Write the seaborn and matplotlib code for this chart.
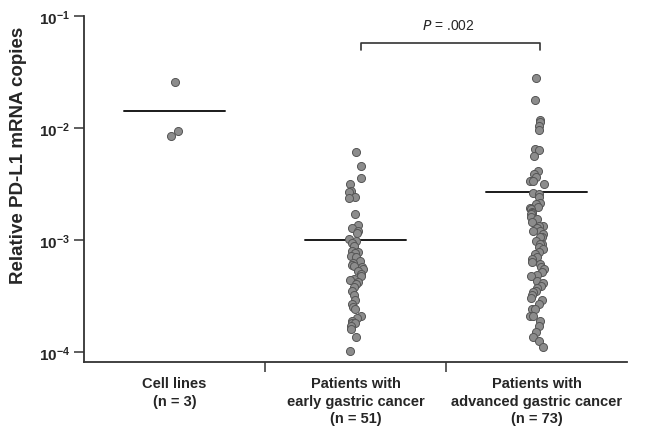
import numpy as np
import pandas as pd
import matplotlib
matplotlib.use('Agg')
import matplotlib.pyplot as plt
import seaborn as sns

# values (relative PD-L1 mRNA copies)
groups = ['Cell lines\n(n = 3)',
          'Patients with\nearly gastric cancer\n(n = 51)',
          'Patients with\nadvanced gastric cancer\n(n = 73)']

cell_lines = [0.0258, 0.0093, 0.0085]

early = [0.00607, 0.00455, 0.00356, 0.00316, 0.00272, 0.00267, 0.00241, 0.00236,
         0.00171, 0.00136, 0.00127, 0.00120, 0.00115, 0.00101, 0.00098, 0.00094,
         0.00088, 0.00080, 0.00078, 0.00076, 0.00072, 0.00070, 0.00065, 0.00062,
         0.00060, 0.00059, 0.00057, 0.00055, 0.00053, 0.00050, 0.00048, 0.00045,
         0.00044, 0.00042, 0.00040, 0.00038, 0.00035, 0.00032, 0.00029, 0.00027,
         0.00025, 0.00024, 0.00021, 0.00020, 0.00019, 0.00018, 0.00018, 0.00017,
         0.00016, 0.000135, 0.000101]

advanced = [0.0279, 0.0178, 0.01178, 0.01124, 0.01049, 0.00953, 0.00649, 0.00640,
            0.00559, 0.00416, 0.00388, 0.00363, 0.00338, 0.00336, 0.00314, 0.00261,
            0.00258, 0.00242, 0.00214, 0.00210, 0.00198, 0.00192, 0.00189, 0.00177,
            0.00174, 0.00171, 0.00160, 0.00154, 0.00145, 0.00134, 0.00134, 0.00128,
            0.00121, 0.00121, 0.00113, 0.00106, 0.00106, 0.00098, 0.00092, 0.00092,
            0.00087, 0.00083, 0.00078, 0.00075, 0.00070, 0.00068, 0.00064, 0.00061,
            0.00057, 0.00055, 0.00052, 0.00049, 0.00048, 0.00043, 0.00041, 0.00039,
            0.00037, 0.00035, 0.00034, 0.00032, 0.00030, 0.00029, 0.00027, 0.00024,
            0.00024, 0.00021, 0.00021, 0.00019, 0.00017, 0.00015, 0.000135, 0.000124,
            0.000110]

center_lines = [0.0142, 0.0010, 0.0027]
p_text = '.002'

df = pd.DataFrame({
    'group': [groups[0]] * len(cell_lines) + [groups[1]] * len(early) + [groups[2]] * len(advanced),
    'value': cell_lines + early + advanced,
})

sns.set_style('ticks')
plt.rcParams['font.family'] = ['Liberation Sans', 'DejaVu Sans']

fig = plt.figure(figsize=(6.46, 4.35), dpi=100)
ax = fig.add_axes([0.130, 0.166, 0.841, 0.795])
ax.set_yscale('log')

np.random.seed(3)
sns.stripplot(data=df, x='group', y='value', order=groups, jitter=0.04,
              color='#8c8c8c', edgecolor='#555555', linewidth=0.7, size=5.8,
              ax=ax, zorder=3)

for i, v in enumerate(center_lines):
    ax.plot([i - 0.28, i + 0.28], [v, v], color='#1a1a1a', lw=1.4, zorder=2)

ax.set_xlim(-0.5, 2.5)
ax.set_ylim(8.15e-5, 1e-1)
ax.set_yticks([1e-4, 1e-3, 1e-2, 1e-1])
ax.yaxis.set_minor_locator(matplotlib.ticker.NullLocator())
for t in ax.get_yticklabels():
    t.set_fontweight('bold')
    t.set_fontsize(11)

# category boundaries get the tick marks, names sit under the groups
ax.set_xticks([0.5, 1.5])
ax.set_xticklabels(['', ''])
ax.set_xticks([0, 1, 2], minor=True)
ax.set_xticklabels(groups, minor=True, fontweight='bold', fontsize=10.5, va='top',
                   linespacing=1.35)
ax.tick_params(axis='x', which='minor', length=0, pad=10)
ax.tick_params(axis='x', which='major', length=7, width=1.1, color='#333333')
ax.tick_params(axis='y', length=7, width=1.1, color='#333333', pad=3)
ax.set_xlabel('')
ax.set_ylabel('Relative PD-L1 mRNA copies', fontsize=13.5, fontweight='bold')
ax.yaxis.set_label_coords(-0.105, 0.60)

for s in ['top', 'right']:
    ax.spines[s].set_visible(False)
for s in ['left', 'bottom']:
    ax.spines[s].set_linewidth(1.3)
    ax.spines[s].set_color('#333333')

# significance bracket
ax.plot([1.03, 1.03, 2.02, 2.02], [10 ** -1.305, 10 ** -1.245, 10 ** -1.245, 10 ** -1.305],
        color='#333333', lw=1.2, clip_on=False)
ax.text(1.51, 10 ** -1.08, '$\\it{P}$ = ' + p_text, ha='center', va='center', fontsize=10)

fig.savefig('out.png', dpi=100)
